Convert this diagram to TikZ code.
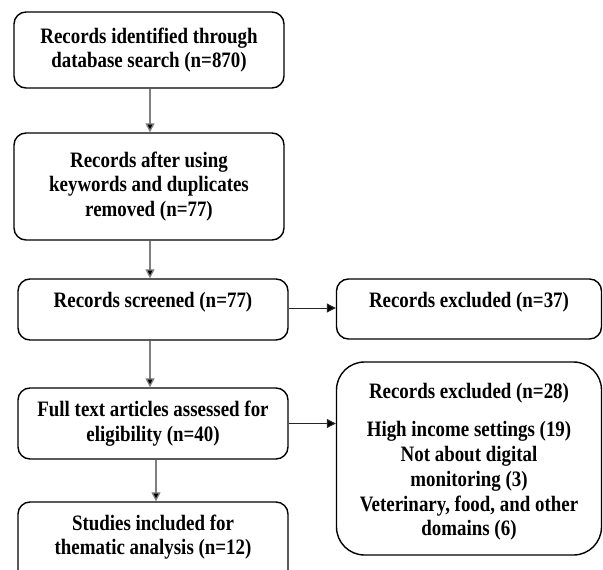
\documentclass[tikz,border=0pt]{standalone}
\usepackage{fontspec}
\setmainfont{Liberation Serif}[FakeStretch=0.86]
\usetikzlibrary{arrows.meta}
\tikzset{
  txt/.style={font=\fontsize{22bp}{24.5bp}\selectfont\bfseries, align=center, inner sep=0pt},
  box/.style={txt, draw=black, line width=1.4bp, rounded corners=12bp, minimum width=270bp},
  vline/.style={draw=black!50, line width=1.3bp, -{Triangle[length=9bp,width=9bp,fill=black]}},
  hline/.style={draw=black!85, line width=1bp, -{Triangle[length=9bp,width=9bp,fill=black]}},
}
\begin{document}
\begin{tikzpicture}[x=1bp,y=-1bp]
\clip (0,0) rectangle (603,570);
\useasboundingbox (0,0) rectangle (603,570);
\node[box, minimum height=76bp] (b1) at (149,50) {Records identified through\\database search (n=870)};
\node[box, minimum height=107bp] (b2) at (149,186.5) {Records after using\\keywords and duplicates\\removed (n=77)};
\node[box, minimum height=61bp, minimum width=270bp] (b3) at (153,309.5) {};
\node[txt] (t3) at (153,302) {Records screened (n=77)};
\node[box, minimum height=71bp] (b4) at (153,423.5) {Full text articles assessed for\\eligibility (n=40)};
\node[box, minimum height=80bp] (b5) at (153,542) {};
\node[txt] (t5) at (153,537) {Studies included for\\thematic analysis (n=12)};
\node[box, minimum height=60bp, minimum width=265bp] (e1) at (469,309) {};
\node[txt] (te1) at (469,302) {Records excluded (n=37)};
\node[box, minimum height=193bp, minimum width=265bp, rounded corners=28bp] (e2) at (469,458.5) {};
\node[txt] (te2) at (469,393) {Records excluded (n=28)};
\node[txt, font=\fontsize{22bp}{24.8bp}\selectfont\bfseries] (te3) at (469,481) {High income settings (19)\\Not about digital\\monitoring (3)\\Veterinary, food, and other\\domains (6)};
\draw[vline] ([xshift=1bp]b1.south) -- ([xshift=1bp]b1.south |- b2.north);
\draw[vline] ([xshift=1bp]b2.south) -- ([xshift=1bp]b2.south |- b3.north);
\draw[vline] ([xshift=-3bp]b3.south) -- ([xshift=-3bp]b3.south |- b4.north);
\draw[vline] ([xshift=3bp]b4.south) -- ([xshift=3bp]b4.south |- b5.north);
\draw[hline] ([yshift=1.5bp]b3.east) -- ([yshift=1.5bp]b3.east -| e1.west);
\draw[hline] (b4.east) -- (b4.east -| e2.west);
\end{tikzpicture}
\end{document}
